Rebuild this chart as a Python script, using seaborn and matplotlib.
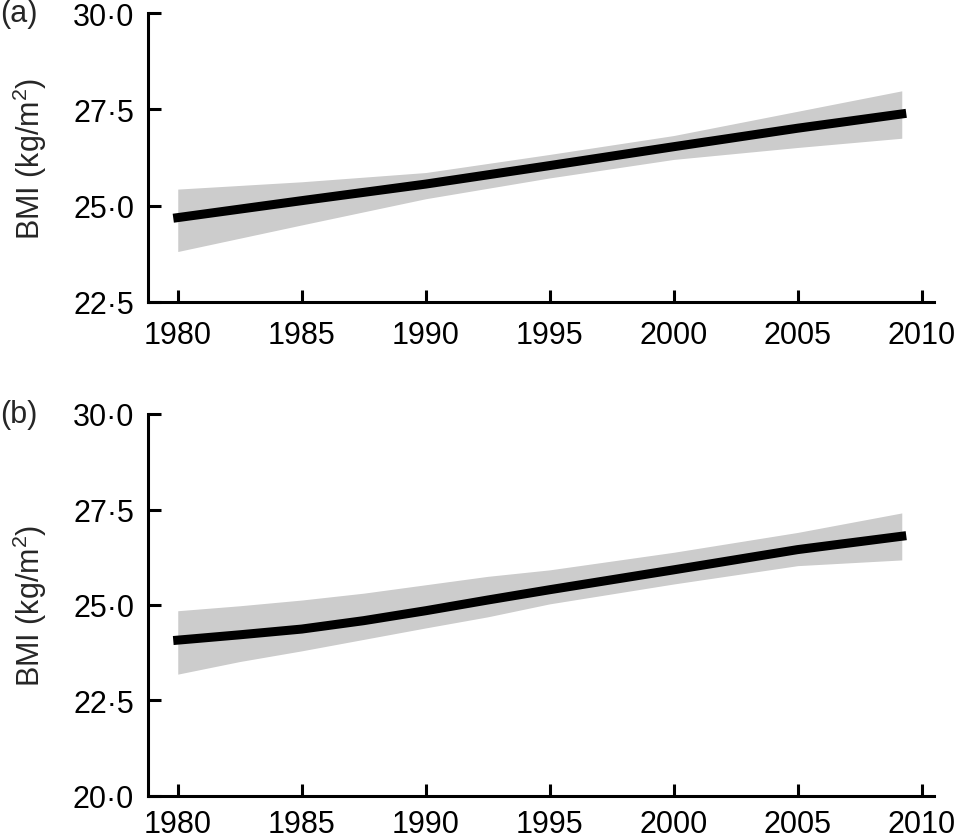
import matplotlib
matplotlib.use("Agg")
import matplotlib.pyplot as plt
import seaborn as sns
import pandas as pd

# ---- data ----
a_years = [1980, 1985, 1990, 1995, 2000, 2005, 2009.2]
a_mean = [24.69, 25.13, 25.56, 26.04, 26.53, 27.01, 27.38]
a_low = [23.81, 24.50, 25.18, 25.72, 26.20, 26.51, 26.75]
a_high = [25.43, 25.62, 25.86, 26.33, 26.82, 27.45, 27.98]

b_years = [1980, 1982.5, 1985, 1987.5, 1990, 1992.5, 1995, 2000, 2005, 2009.2]
b_mean = [24.08, 24.22, 24.37, 24.59, 24.85, 25.13, 25.40, 25.92, 26.45, 26.80]
b_low = [23.19, 23.52, 23.80, 24.10, 24.40, 24.69, 25.03, 25.55, 26.03, 26.18]
b_high = [24.85, 24.98, 25.13, 25.31, 25.53, 25.75, 25.92, 26.38, 26.90, 27.41]

x_ticks = [1980, 1985, 1990, 1995, 2000, 2005, 2010]
a_yticks = [22.5, 25.0, 27.5, 30.0]
b_yticks = [20.0, 22.5, 25.0, 27.5, 30.0]
panel_labels = ["(a)", "(b)"]
y_label = r"BMI (kg/m$^{2}$)"

# ---- style ----
sns.set_theme(style="ticks")
plt.rcParams["font.family"] = ["Liberation Sans", "DejaVu Sans"]
plt.rcParams["mathtext.fontset"] = "custom"
plt.rcParams["mathtext.rm"] = "Liberation Sans"
plt.rcParams["mathtext.it"] = "Liberation Sans"
plt.rcParams["mathtext.default"] = "regular"

FS = 22

fig = plt.figure(figsize=(9.58, 8.37), dpi=100)
ax_a = fig.add_axes([148 / 958, 1 - 303 / 837, (934 - 148) / 958, (303 - 14) / 837])
ax_b = fig.add_axes([148 / 958, 1 - 797 / 837, (934 - 148) / 958, (797 - 415) / 837])

panels = [
    (ax_a, a_years, a_mean, a_low, a_high, a_yticks, 13),
    (ax_b, b_years, b_mean, b_low, b_high, b_yticks, 9.5),
]

for ax, yrs, mean, low, high, yt, xpad in panels:
    df = pd.DataFrame({"year": yrs, "bmi": mean})
    ax.fill_between(yrs, low, high, color="#cccccc", linewidth=0, zorder=1)
    sns.lineplot(data=df, x="year", y="bmi", ax=ax, color="black",
                 linewidth=6.5, zorder=3)
    for ln in ax.get_lines():
        ln.set_solid_capstyle("projecting")
        ln.set_solid_joinstyle("round")
    ax.set_xlim(1978.8, 2010.5)
    ax.set_ylim(yt[0], yt[-1])
    ax.set_xticks(x_ticks)
    ax.set_xticklabels([str(t) for t in x_ticks])
    ax.set_yticks(yt)
    ax.set_yticklabels([f"{t:.1f}".replace(".", "\u00b7") for t in yt])
    ax.set_xlabel("")
    ax.set_ylabel(y_label, fontsize=FS)
    for s in ["top", "right"]:
        ax.spines[s].set_visible(False)
    for s in ["left", "bottom"]:
        ax.spines[s].set_linewidth(2.2)
        ax.spines[s].set_color("black")
    ax.tick_params(axis="both", direction="in", length=9, width=2.2,
                   color="black", labelsize=FS, labelcolor="black")
    ax.tick_params(axis="x", pad=xpad)
    ax.tick_params(axis="y", pad=10)
    ax.set_facecolor("white")
    ax.yaxis.set_label_coords(-0.126, 0.5)

fig.text(0.0, 1 - 14 / 837, panel_labels[0], fontsize=FS, ha="left", va="center")
fig.text(0.0, 1 - 415 / 837, panel_labels[1], fontsize=FS, ha="left", va="center")

fig.savefig("out.png", dpi=100, facecolor="white")
